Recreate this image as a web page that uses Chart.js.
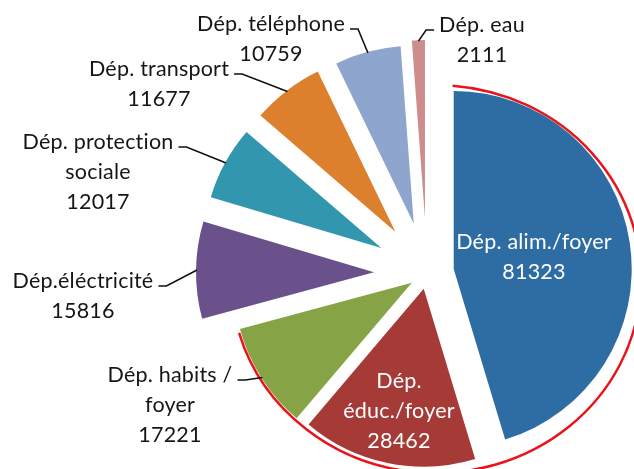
<!DOCTYPE html>
<html>
<head>
<meta charset="utf-8">
<script src="https://cdn.jsdelivr.net/npm/chart.js@4.4.0/dist/chart.umd.min.js"></script>
<style>
    html, body { margin: 0; padding: 0; background: #fff; }
    #wrap { width: 634px; height: 469px; position: relative; }
</style>
</head>
<body>
<div id="wrap"><canvas id="depChart"></canvas></div>
<script>
// --- Data ---
const sliceNames = [
    ['Dép. alim./foyer'],
    ['Dép.', 'éduc./foyer'],
    ['Dép. habits /', 'foyer'],
    ['Dép.éléctricité'],
    ['Dép. protection', 'sociale'],
    ['Dép. transport'],
    ['Dép. téléphone'],
    ['Dép. eau']
];
const sliceValues = [81323, 28462, 17221, 15816, 12017, 11677, 10759, 2111];

// --- Look & layout ---
const sliceColors = ['#2E6CA4', '#A63A37', '#86A446', '#6B518C', '#3196AE', '#DC802E', '#8EA6CE', '#CE8C8C'];
const sliceExplode = [27, 16, 18, 53, 52, 52, 51, 55];      // px each slice is pulled out
const labelSpots = [[534, 241], [399, 380], [170, 374], [83, 280], [98, 141], [159, 68], [271, 23], [482, 24]];
const labelInside = [true, true, false, false, false, false, false, false];

const FONT = '21.5px Lato';
const LINE_H = 30;
const CAP_HALF = 7.5;

/**
 * Draws every arc pulled out along its mid angle instead of the
 * default offset (which also grows the radius of small slices).
 */
const explodedPie = {
    id: 'explodedPie',
    beforeDatasetDraw(chart, args) {
        const ctx = chart.ctx;
        args.meta.data.forEach((arc, i) => {
            const mid = (arc.startAngle + arc.endAngle) / 2;
            ctx.save();
            ctx.translate(Math.cos(mid) * sliceExplode[i], Math.sin(mid) * sliceExplode[i]);
            arc.draw(ctx);
            ctx.restore();
        });
        return false;
    }
};

// Red ring around the three biggest slices
const highlightRing = {
    id: 'highlightRing',
    afterDatasetsDraw(chart) {
        const arc = chart.getDatasetMeta(0).data[0];
        const ctx = chart.ctx;
        ctx.save();
        ctx.strokeStyle = '#E8141C';
        ctx.lineWidth = 2.5;
        ctx.beginPath();
        ctx.ellipse(arc.x + 9, arc.y + 6, 205, 194, 0, -1.49, 2.86, false);
        ctx.stroke();
        ctx.restore();
    }
};

// Name + value labels, with leader lines for the ones outside the pie
const sliceLabels = {
    id: 'sliceLabels',
    afterDatasetsDraw(chart) {
        const ctx = chart.ctx;
        const arcs = chart.getDatasetMeta(0).data;
        ctx.save();
        ctx.font = FONT;
        ctx.letterSpacing = '0.2px';   // also keeps "ti" from turning into a ligature
        ctx.textAlign = 'center';
        ctx.textBaseline = 'alphabetic';
        ctx.lineWidth = 1.6;
        ctx.strokeStyle = '#111';
        arcs.forEach((arc, i) => {
            const lines = sliceNames[i].concat(String(sliceValues[i]));
            const [cx, cy] = labelSpots[i];
            ctx.fillStyle = labelInside[i] ? '#ffffff' : '#161616';
            lines.forEach((t, k) => ctx.fillText(t, cx, cy + k * LINE_H + CAP_HALF));
            if (labelInside[i]) return;

            const mid = (arc.startAngle + arc.endAngle) / 2;
            const r = arc.outerRadius + sliceExplode[i] - 1;
            const ax = arc.x + Math.cos(mid) * r;
            const ay = arc.y + Math.sin(mid) * r;
            const half = ctx.measureText(lines[0]).width / 2;
            const side = ax > cx ? 1 : -1;
            const ly = cy + 6;
            const x0 = cx + side * (half + 5);
            const x1 = x0 + side * 8;
            ctx.beginPath();
            ctx.moveTo(x0, ly);
            ctx.lineTo(x1, ly);
            ctx.lineTo(ax, ay);
            ctx.stroke();
        });
        ctx.restore();
    }
};

new Chart(document.getElementById('depChart'), {
    type: 'pie',
    data: {
        labels: sliceNames,
        datasets: [{
            data: sliceValues,
            backgroundColor: sliceColors,
            borderWidth: 0
        }]
    },
    options: {
        responsive: true,
        maintainAspectRatio: false,
        animation: false,
        events: [],
        radius: 178,
        layout: { padding: { left: 220, top: 77, right: 0, bottom: 0 } },
        plugins: {
            legend: { display: false },
            tooltip: { enabled: false }
        }
    },
    plugins: [explodedPie, highlightRing, sliceLabels]
});
</script>
</body>
</html>
